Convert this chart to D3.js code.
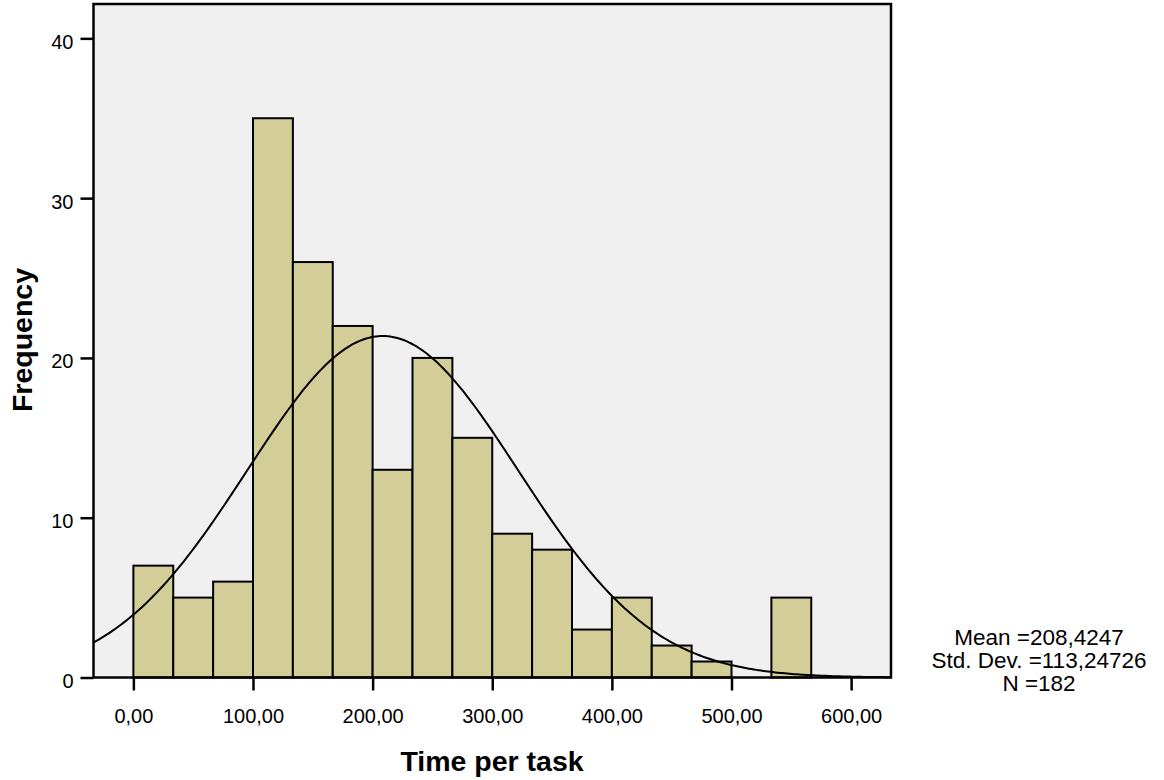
<!DOCTYPE html>
<html>
<head>
<meta charset="utf-8">
<script src="https://cdn.jsdelivr.net/npm/d3@7"></script>
<style>
  html, body { margin: 0; padding: 0; background: #fff; }
  svg { display: block; font-family: "Liberation Sans", Arial, sans-serif; }
</style>
</head>
<body>
<svg id="chart" width="1164" height="780"></svg>
<script>
// Histogram of time per task (bin width 33.33)
const binWidth = 100 / 3;
const binStarts = [0, 1, 2, 3, 4, 5, 6, 7, 8, 9, 10, 11, 12, 13, 14, 15, 16].map(i => i * binWidth);
const counts = [7, 5, 6, 35, 26, 22, 13, 20, 15, 9, 8, 3, 5, 2, 1, 0, 5];
const xTicks = [0, 100, 200, 300, 400, 500, 600];
const yTicks = [0, 10, 20, 30, 40];
const stats = { mean: 208.4247, sd: 113.24726, n: 182 };
const statLines = ["Mean =208,4247", "Std. Dev. =113,24726", "N =182"];

const svg = d3.select("#chart");
const plot = { left: 93.5, right: 891, top: 4, bottom: 677.5 };

const x = d3.scaleLinear().domain([-binWidth, 19 * binWidth]).range([plot.left, plot.right]);
const y = d3.scaleLinear().domain([0, 42.15]).range([plot.bottom, plot.top]);

// plot background
svg.append("rect")
  .attr("x", plot.left).attr("y", plot.top)
  .attr("width", plot.right - plot.left).attr("height", plot.bottom - plot.top)
  .attr("fill", "#f0f0f0");

// bars
svg.append("g").selectAll("rect")
  .data(counts.map((c, i) => ({ x0: binStarts[i], c })).filter(d => d.c > 0))
  .join("rect")
  .attr("x", d => x(d.x0))
  .attr("y", d => y(d.c))
  .attr("width", d => x(d.x0 + binWidth) - x(d.x0))
  .attr("height", d => y(0) - y(d.c))
  .attr("fill", "#d3ce98")
  .attr("stroke", "#000")
  .attr("stroke-width", 2);

// fitted normal curve scaled to counts
const pdf = v => Math.exp(-0.5 * ((v - stats.mean) / stats.sd) ** 2) / (stats.sd * Math.sqrt(2 * Math.PI));
const curvePts = d3.range(-binWidth, 19 * binWidth + 0.01, 2).map(v => [v, stats.n * binWidth * pdf(v)]);
svg.append("path")
  .datum(curvePts)
  .attr("fill", "none")
  .attr("stroke", "#000")
  .attr("stroke-width", 2)
  .attr("d", d3.line().x(d => x(d[0])).y(d => y(d[1])));

// frame
svg.append("rect")
  .attr("x", plot.left).attr("y", plot.top)
  .attr("width", plot.right - plot.left).attr("height", plot.bottom - plot.top)
  .attr("fill", "none").attr("stroke", "#000").attr("stroke-width", 2.5);

// axes
const fmt = d => d.toFixed(2).replace(".", ",");
const xAxis = svg.append("g")
  .attr("transform", `translate(0,${plot.bottom})`)
  .call(d3.axisBottom(x).tickValues(xTicks).tickFormat(fmt).tickSize(13).tickPadding(18));
const yAxis = svg.append("g")
  .attr("transform", `translate(${plot.left},0)`)
  .call(d3.axisLeft(y).tickValues(yTicks).tickFormat(d3.format("d")).tickSize(13).tickPadding(7));
[xAxis, yAxis].forEach(g => {
  g.select(".domain").remove();
  g.selectAll(".tick line").attr("stroke", "#000").attr("stroke-width", 2.5);
  g.selectAll(".tick text").attr("fill", "#000").style("font-size", "20px")
    .style("font-family", "'Liberation Sans', Arial, sans-serif");
});
yAxis.selectAll(".tick text").attr("dy", "0.5em");

// axis titles
svg.append("text")
  .attr("x", 492).attr("y", 771)
  .attr("text-anchor", "middle")
  .style("font-size", "28.5px").style("font-weight", "bold")
  .text("Time per task");
svg.append("text")
  .attr("transform", "translate(32,340) rotate(-90)")
  .attr("text-anchor", "middle")
  .style("font-size", "28.5px").style("font-weight", "bold")
  .text("Frequency");

// summary statistics
svg.append("g").selectAll("text")
  .data(statLines)
  .join("text")
  .attr("x", 1039)
  .attr("y", (d, i) => 645 + i * 23)
  .attr("text-anchor", "middle")
  .style("font-size", "22.5px")
  .text(d => d);
</script>
</body>
</html>
